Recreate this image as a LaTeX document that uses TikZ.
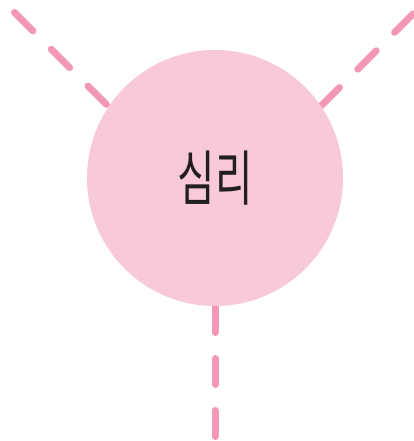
\documentclass[tikz,border=0pt]{standalone}
\usepackage{fontspec}
\newfontfamily\kofont{Noto Sans CJK KR}
\definecolor{circfill}{HTML}{F8C9D7}
\definecolor{dashpink}{HTML}{F298B5}
\definecolor{inkblack}{HTML}{231F20}
\tikzset{
  spoke/.style={draw=dashpink, line width=7pt, line cap=round, dash pattern=on 26pt off 26pt},
  bubble/.style={circle, fill=circfill, minimum size=256pt, inner sep=0pt, text=inkblack,
    font=\kofont\fontsize{60}{60}\selectfont}
}
\begin{document}
\begin{tikzpicture}[x=1pt, y=-1pt]
\useasboundingbox (0,0) rectangle (414,441);
\coordinate (tl) at (14.5,12.5);
\coordinate (tlend) at (154.5,152.5);
\coordinate (tr) at (413,14);
\coordinate (trend) at (273,154);
\coordinate (bt) at (215,436.5);
\coordinate (btend) at (215,250);
\draw[spoke] (tl) -- (tlend);
\draw[spoke] (tr) -- (trend);
\draw[spoke] (bt) -- (btend);
\node[bubble] (c) at (215,178) {\scalebox{0.68}[1]{심리}};
\end{tikzpicture}
\end{document}
